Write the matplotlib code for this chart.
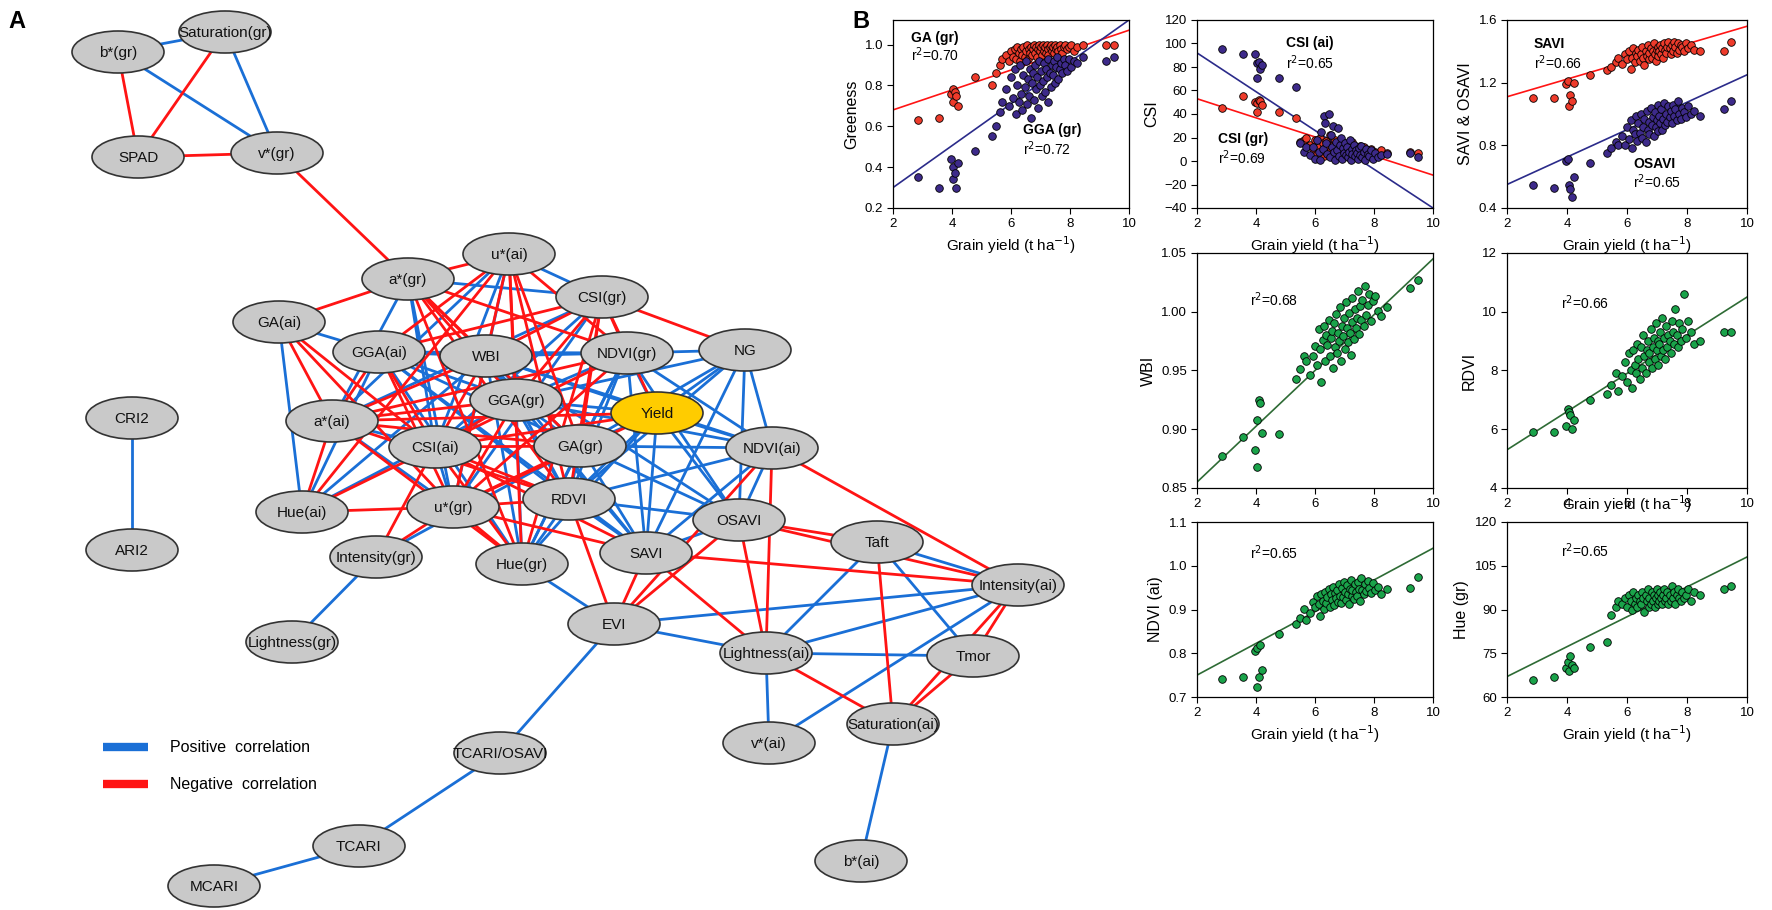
import matplotlib
matplotlib.use("Agg")
import matplotlib.pyplot as plt
from matplotlib.patches import Ellipse

plt.rcParams['font.family'] = ['Liberation Sans', 'DejaVu Sans']

W, H = 1772, 910

# ---------------- panel A : correlation network ----------------
node_pos = {  # layout in pixels (x, y from top)
    "b*(gr)": (118, 52), "Saturation(gr)": (225, 32), "SPAD": (138, 157), "v*(gr)": (277, 153),
    "a*(gr)": (408, 279), "u*(ai)": (509, 254), "CSI(gr)": (602, 297), "GA(ai)": (279, 322),
    "GGA(ai)": (379, 352), "WBI": (486, 356), "NDVI(gr)": (627, 353), "NG": (745, 350),
    "GGA(gr)": (516, 400), "Yield": (657, 413), "a*(ai)": (332, 421), "CSI(ai)": (435, 447),
    "GA(gr)": (580, 446), "NDVI(ai)": (772, 448), "Hue(ai)": (302, 512), "u*(gr)": (453, 507),
    "RDVI": (569, 499), "OSAVI": (739, 520), "Taft": (877, 542), "Intensity(gr)": (376, 557),
    "Hue(gr)": (522, 564), "SAVI": (646, 553), "Intensity(ai)": (1018, 585), "EVI": (614, 624),
    "Lightness(gr)": (292, 642), "Lightness(ai)": (766, 653), "Tmor": (973, 656),
    "v*(ai)": (769, 743), "Saturation(ai)": (893, 724), "b*(ai)": (861, 861),
    "TCARI/OSAVI": (500, 753), "TCARI": (359, 846), "MCARI": (214, 886),
    "CRI2": (132, 418), "ARI2": (132, 550),
}

positive_edges = [
    ("b*(gr)", "Saturation(gr)"), ("b*(gr)", "v*(gr)"), ("Saturation(gr)", "v*(gr)"),
    ("CRI2", "ARI2"), ("Intensity(gr)", "Lightness(gr)"), ("EVI", "TCARI/OSAVI"),
    ("TCARI/OSAVI", "TCARI"), ("TCARI", "MCARI"), ("Saturation(ai)", "b*(ai)"),
    ("Lightness(ai)", "v*(ai)"), ("Lightness(ai)", "Tmor"), ("Lightness(ai)", "Intensity(ai)"),
    ("Lightness(ai)", "EVI"), ("EVI", "Intensity(ai)"), ("v*(ai)", "Intensity(ai)"),
    ("Taft", "Tmor"), ("Taft", "Lightness(ai)"), ("Taft", "Intensity(ai)"), ("Hue(gr)", "EVI"),
    ("a*(gr)", "CSI(gr)"), ("a*(gr)", "a*(ai)"), ("a*(gr)", "CSI(ai)"), ("a*(gr)", "u*(gr)"),
    ("u*(ai)", "CSI(gr)"), ("u*(ai)", "CSI(ai)"), ("u*(ai)", "u*(gr)"), ("u*(ai)", "a*(ai)"),
    ("CSI(gr)", "CSI(ai)"), ("CSI(gr)", "u*(gr)"), ("CSI(gr)", "a*(ai)"),
    ("a*(ai)", "CSI(ai)"), ("a*(ai)", "u*(gr)"), ("CSI(ai)", "u*(gr)"),
    ("GA(ai)", "GGA(ai)"), ("GA(ai)", "Hue(ai)"), ("GGA(ai)", "WBI"), ("GGA(ai)", "GGA(gr)"),
    ("GGA(ai)", "GA(gr)"), ("GGA(ai)", "NDVI(gr)"), ("GGA(ai)", "RDVI"), ("GGA(ai)", "Hue(gr)"),
    ("GGA(ai)", "Hue(ai)"), ("GGA(ai)", "SAVI"),
    ("WBI", "NDVI(gr)"), ("WBI", "GGA(gr)"), ("WBI", "GA(gr)"), ("WBI", "RDVI"), ("WBI", "Hue(gr)"),
    ("WBI", "Yield"), ("WBI", "SAVI"), ("WBI", "OSAVI"), ("WBI", "NDVI(ai)"), ("WBI", "Hue(ai)"),
    ("NDVI(gr)", "NG"), ("NDVI(gr)", "GGA(gr)"), ("NDVI(gr)", "Yield"), ("NDVI(gr)", "GA(gr)"),
    ("NDVI(gr)", "NDVI(ai)"), ("NDVI(gr)", "RDVI"), ("NDVI(gr)", "SAVI"), ("NDVI(gr)", "OSAVI"),
    ("NDVI(gr)", "Hue(gr)"),
    ("NG", "Yield"), ("NG", "GA(gr)"), ("NG", "NDVI(ai)"), ("NG", "OSAVI"), ("NG", "SAVI"),
    ("NG", "RDVI"), ("NG", "GGA(gr)"),
    ("GGA(gr)", "GA(gr)"), ("GGA(gr)", "Yield"), ("GGA(gr)", "RDVI"), ("GGA(gr)", "Hue(gr)"),
    ("GGA(gr)", "SAVI"), ("GGA(gr)", "NDVI(ai)"), ("GGA(gr)", "Hue(ai)"),
    ("Yield", "GA(gr)"), ("Yield", "NDVI(ai)"), ("Yield", "RDVI"), ("Yield", "SAVI"),
    ("Yield", "OSAVI"), ("Yield", "Hue(gr)"),
    ("GA(gr)", "RDVI"), ("GA(gr)", "SAVI"), ("GA(gr)", "OSAVI"), ("GA(gr)", "NDVI(ai)"),
    ("GA(gr)", "Hue(gr)"), ("GA(gr)", "Intensity(gr)"),
    ("NDVI(ai)", "OSAVI"), ("NDVI(ai)", "SAVI"), ("NDVI(ai)", "RDVI"),
    ("RDVI", "SAVI"), ("RDVI", "OSAVI"), ("RDVI", "Hue(gr)"), ("OSAVI", "SAVI"),
]

negative_edges = [
    ("b*(gr)", "SPAD"), ("Saturation(gr)", "SPAD"), ("SPAD", "v*(gr)"), ("v*(gr)", "a*(gr)"),
    ("a*(gr)", "GA(ai)"), ("a*(gr)", "WBI"), ("a*(gr)", "GGA(gr)"), ("a*(gr)", "NDVI(gr)"),
    ("a*(gr)", "GA(gr)"), ("a*(gr)", "RDVI"), ("a*(gr)", "Hue(gr)"), ("a*(gr)", "u*(ai)"),
    ("u*(ai)", "WBI"), ("u*(ai)", "GGA(ai)"), ("u*(ai)", "GGA(gr)"), ("u*(ai)", "NDVI(gr)"),
    ("u*(ai)", "GA(gr)"), ("u*(ai)", "RDVI"), ("u*(ai)", "Hue(gr)"), ("u*(ai)", "Hue(ai)"),
    ("CSI(gr)", "WBI"), ("CSI(gr)", "GGA(ai)"), ("CSI(gr)", "GGA(gr)"), ("CSI(gr)", "NDVI(gr)"),
    ("CSI(gr)", "GA(gr)"), ("CSI(gr)", "NG"), ("CSI(gr)", "RDVI"), ("CSI(gr)", "Yield"),
    ("CSI(gr)", "Hue(gr)"),
    ("GA(ai)", "a*(ai)"), ("GA(ai)", "CSI(ai)"), ("GA(ai)", "u*(gr)"),
    ("GGA(ai)", "a*(ai)"), ("GGA(ai)", "CSI(ai)"), ("GGA(ai)", "u*(gr)"),
    ("WBI", "a*(ai)"), ("WBI", "CSI(ai)"), ("WBI", "u*(gr)"),
    ("NDVI(gr)", "a*(ai)"), ("NDVI(gr)", "CSI(ai)"), ("NDVI(gr)", "u*(gr)"),
    ("GGA(gr)", "a*(ai)"), ("GGA(gr)", "CSI(ai)"), ("GGA(gr)", "u*(gr)"),
    ("Yield", "a*(ai)"), ("Yield", "CSI(ai)"), ("Yield", "u*(gr)"),
    ("a*(ai)", "Hue(ai)"), ("a*(ai)", "GA(gr)"), ("a*(ai)", "RDVI"), ("a*(ai)", "Hue(gr)"),
    ("CSI(ai)", "GA(gr)"), ("CSI(ai)", "RDVI"), ("CSI(ai)", "Hue(gr)"), ("CSI(ai)", "Hue(ai)"),
    ("CSI(ai)", "Intensity(gr)"), ("CSI(ai)", "SAVI"),
    ("u*(gr)", "RDVI"), ("u*(gr)", "Hue(gr)"), ("u*(gr)", "Intensity(gr)"), ("u*(gr)", "SAVI"),
    ("u*(gr)", "GA(gr)"), ("u*(gr)", "Hue(ai)"),
    ("RDVI", "EVI"), ("SAVI", "EVI"), ("OSAVI", "EVI"), ("NDVI(ai)", "EVI"),
    ("NDVI(ai)", "Intensity(ai)"), ("NDVI(ai)", "Lightness(ai)"), ("OSAVI", "Lightness(ai)"),
    ("OSAVI", "Taft"), ("SAVI", "Lightness(ai)"), ("SAVI", "Intensity(ai)"),
    ("Taft", "Saturation(ai)"), ("OSAVI", "Intensity(ai)"), ("Lightness(ai)", "Saturation(ai)"),
    ("Tmor", "Saturation(ai)"), ("Intensity(ai)", "Saturation(ai)"), ("Intensity(ai)", "Tmor"),
]

# ---------------- panel B : grain yield scatter data ----------------
grain_yield = [2.85, 3.55, 3.95, 4.02, 4.05, 4.10, 4.15, 4.22, 4.78, 5.35,
               5.48, 5.62, 5.71,
               5.82, 5.93, 6.01, 6.06, 6.12, 6.18, 6.21, 6.27, 6.30, 6.34,
               6.38, 6.42, 6.47, 6.51, 6.55, 6.58, 6.62, 6.66, 6.69, 6.72,
               6.75, 6.79, 6.82, 6.86, 6.89, 6.93, 6.96, 6.99, 7.02, 7.05,
               7.08, 7.11, 7.14, 7.17, 7.21, 7.24, 7.27, 7.31, 7.35, 7.38,
               7.42, 7.46, 7.50, 7.53, 7.57, 7.61, 7.66, 7.70, 7.74, 7.79,
               7.84, 7.90, 7.96, 8.03, 8.12, 8.25, 8.45,
               9.22, 9.48]

ga_gr = [0.63, 0.64, 0.76, 0.78, 0.72, 0.77, 0.75, 0.70, 0.84, 0.80,
         0.86, 0.90, 0.93,
         0.95, 0.92, 0.97, 0.94, 0.98, 0.93, 0.99, 0.96, 0.92, 0.98,
         0.95, 0.99, 0.94, 0.97, 1.00, 0.93, 0.98, 0.96, 0.99, 0.95,
         0.98, 1.00, 0.96, 0.99, 0.94, 0.98, 1.00, 0.97, 0.99, 0.95,
         1.00, 0.97, 0.99, 0.96, 1.00, 0.98, 0.95, 0.99, 1.00, 0.97,
         0.99, 0.96, 1.00, 0.98, 0.99, 0.97, 1.00, 0.98, 0.96, 0.99,
         1.00, 0.98, 0.99, 1.00, 0.97, 0.99, 1.00,
         1.00, 1.00]
gga_gr = [0.35, 0.30, 0.44, 0.40, 0.34, 0.37, 0.30, 0.42, 0.48, 0.55,
          0.60, 0.67, 0.72,
          0.78, 0.70, 0.84, 0.74, 0.88, 0.66, 0.80, 0.72, 0.90, 0.76,
          0.68, 0.85, 0.79, 0.92, 0.71, 0.83, 0.75, 0.88, 0.64, 0.81,
          0.86, 0.73, 0.90, 0.78, 0.84, 0.69, 0.92, 0.80, 0.87, 0.75,
          0.82, 0.91, 0.77, 0.88, 0.84, 0.72, 0.93, 0.86, 0.79, 0.90,
          0.85, 0.92, 0.81, 0.89, 0.94, 0.83, 0.88, 0.91, 0.86, 0.93,
          0.90, 0.87, 0.93, 0.89, 0.92, 0.91, 0.94,
          0.92, 0.94]
csi_gr = [45, 55, 50, 49, 42, 52, 51, 48, 42, 37,
          16, 18, 20,
          14, 10, 18, 6, 12, 20, 8, 15, 4, 11,
          17, 7, 13, 22, 9, 5, 14, 11, 18, 6,
          12, 8, 16, 4, 10, 13, 7, 15, 9, 11,
          6, 14, 9, 12, 5, 16, 8, 10, 13, 7,
          11, 4, 9, 13, 6, 10, 12, 8, 5, 9,
          7, 10, 5, 8, 6, 9, 7,
          8, 7]
csi_ai = [95, 91, 91, 83, 71, 84, 78, 82, 71, 63,
          15, 8, 12,
          5, 12, 2, 18, 8, 1, 25, 10, 38, 32,
          15, 6, 40, 3, 22, 12, 30, 8, 1, 16,
          9, 28, 4, 14, 20, 2, 11, 7, 15, 5,
          12, 3, 8, 18, 1, 10, 6, 14, 4, 9,
          7, 2, 11, 5, 13, 3, 8, 1, 10, 6,
          4, 9, 2, 7, 3, 5, 6,
          7, 3]
savi = [1.10, 1.10, 1.19, 1.21, 1.05, 1.12, 1.08, 1.20, 1.25, 1.28,
        1.30, 1.33, 1.36,
        1.32, 1.38, 1.35, 1.40, 1.29, 1.36, 1.42, 1.33, 1.39, 1.37,
        1.41, 1.34, 1.38, 1.43, 1.36, 1.31, 1.40, 1.37, 1.44, 1.35,
        1.39, 1.42, 1.36, 1.40, 1.45, 1.38, 1.34, 1.41, 1.43, 1.37,
        1.40, 1.44, 1.38, 1.42, 1.36, 1.45, 1.41, 1.39, 1.43, 1.46,
        1.42, 1.38, 1.44, 1.40, 1.46, 1.43, 1.39, 1.45, 1.41, 1.44,
        1.43, 1.40, 1.45, 1.42, 1.44, 1.41, 1.40,
        1.40, 1.46]
osavi = [0.55, 0.53, 0.70, 0.71, 0.55, 0.52, 0.47, 0.60, 0.69, 0.75,
         0.78, 0.82, 0.80,
         0.86, 0.80, 0.92, 0.84, 0.96, 0.78, 0.90, 0.87, 0.99, 0.83,
         0.94, 0.88, 1.00, 0.85, 0.92, 0.97, 0.82, 1.02, 0.90, 0.95,
         0.87, 1.04, 0.93, 0.98, 0.86, 1.01, 0.92, 0.96, 1.06, 0.89,
         0.99, 0.94, 1.03, 0.90, 0.97, 1.07, 0.93, 1.00, 0.95, 1.05,
         0.98, 1.02, 0.94, 1.06, 0.99, 1.03, 0.96, 1.08, 1.00, 0.97,
         1.04, 1.01, 0.98, 1.05, 1.00, 1.02, 0.99,
         1.03, 1.08]
wbi = [0.877, 0.893, 0.882, 0.908, 0.868, 0.925, 0.922, 0.897, 0.896, 0.943,
       0.951, 0.962, 0.958,
       0.946, 0.962, 0.971, 0.955, 0.985, 0.968, 0.940, 0.976, 0.988, 0.958,
       0.980, 0.972, 0.993, 0.962, 0.978, 0.984, 0.952, 0.990, 0.970, 0.998,
       0.965, 0.982, 0.975, 1.004, 0.958, 0.988, 0.979, 0.995, 0.968, 1.008,
       0.986, 0.974, 0.999, 0.982, 0.963, 1.012, 0.991, 0.977, 1.002, 0.986,
       0.995, 1.018, 0.981, 1.005, 0.993, 1.010, 0.988, 1.022, 0.997, 1.006,
       1.015, 0.992, 1.009, 1.013, 1.001, 0.996, 1.004,
       1.020, 1.027]
rdvi = [5.9, 5.9, 6.1, 6.7, 6.6, 6.5, 6.0, 6.3, 7.0, 7.2,
        7.5, 7.9, 7.3,
        7.8, 8.3, 7.6, 8.6, 8.0, 7.4, 8.7, 8.2, 7.9, 8.9,
        8.4, 7.7, 8.8, 8.1, 9.2, 8.5, 7.9, 8.7, 9.0, 8.3,
        8.6, 9.4, 8.1, 8.8, 9.1, 8.4, 9.6, 8.7, 8.2, 9.0,
        8.9, 9.3, 8.5, 9.8, 8.7, 9.1, 8.4, 9.5, 8.8, 9.2,
        9.0, 8.6, 9.7, 9.3, 8.9, 10.1, 9.2, 8.8, 9.6, 9.0,
        9.4, 10.6, 9.1, 9.7, 9.3, 8.9, 9.0,
        9.3, 9.3]
ndvi_ai = [0.742, 0.745, 0.805, 0.812, 0.722, 0.745, 0.818, 0.762, 0.845, 0.868,
           0.880, 0.902, 0.875,
           0.892, 0.918, 0.905, 0.930, 0.912, 0.885, 0.935, 0.920, 0.902, 0.940,
           0.915, 0.928, 0.948, 0.905, 0.935, 0.922, 0.952, 0.910, 0.938, 0.926,
           0.945, 0.918, 0.958, 0.932, 0.915, 0.950, 0.928, 0.962, 0.940, 0.921,
           0.955, 0.935, 0.912, 0.948, 0.968, 0.930, 0.945, 0.925, 0.958, 0.940,
           0.932, 0.962, 0.948, 0.920, 0.972, 0.945, 0.935, 0.958, 0.942, 0.965,
           0.950, 0.938, 0.960, 0.945, 0.952, 0.935, 0.948,
           0.950, 0.975]
hue_gr = [66, 67, 70, 72, 69, 74, 71, 70, 77, 79,
          88, 91, 93,
          92, 94, 91, 95, 93, 90, 96, 92, 94, 91,
          95, 93, 92, 96, 94, 89, 95, 93, 97, 91,
          94, 92, 96, 93, 95, 91, 94, 97, 92, 95,
          93, 96, 94, 92, 95, 97, 93, 94, 96, 92,
          95, 93, 98, 94, 96, 92, 95, 97, 94, 93,
          96, 94, 95, 97, 93, 96, 95,
          97, 98]

# regression lines: value at yield = 2 and at yield = 10
fit_lines = {
    "ga_gr": (0.68, 1.07), "gga_gr": (0.30, 1.12),
    "csi_gr": (53, -12), "csi_ai": (92, -40),
    "savi": (1.11, 1.56), "osavi": (0.55, 1.25),
    "wbi": (0.855, 1.045), "rdvi": (5.3, 10.5),
    "ndvi_ai": (0.75, 1.04), "hue_gr": (67, 108),
}

POS_C = '#1a6fd6'
NEG_C = '#ff1414'
RED_PT = '#ee3b2b'
PUR_PT = '#3d2a8a'
GRN_PT = '#1aa34a'

fig = plt.figure(figsize=(W / 100, H / 100), dpi=100)

# network drawn in pixel coordinates on a full-figure axes
net = fig.add_axes([0, 0, 1, 1])
net.set_xlim(0, W)
net.set_ylim(H, 0)
net.axis('off')

for a, b in positive_edges:
    (x1, y1), (x2, y2) = node_pos[a], node_pos[b]
    net.plot([x1, x2], [y1, y2], color=POS_C, lw=2.0, zorder=1)
for a, b in negative_edges:
    (x1, y1), (x2, y2) = node_pos[a], node_pos[b]
    net.plot([x1, x2], [y1, y2], color=NEG_C, lw=2.0, zorder=1)

for name, (x, y) in node_pos.items():
    fc = '#ffcc00' if name == "Yield" else '#c9c9c9'
    net.add_patch(Ellipse((x, y), 92, 42, facecolor=fc, edgecolor='#333333', lw=1.2, zorder=3))
    net.text(x, y + 1, name, ha='center', va='center', fontsize=11, color='#111111', zorder=4)

net.plot([103, 148], [747, 747], color=POS_C, lw=6, solid_capstyle='butt')
net.plot([103, 148], [784, 784], color=NEG_C, lw=6, solid_capstyle='butt')
net.text(170, 747, "Positive  correlation", fontsize=11.5, va='center')
net.text(170, 784, "Negative  correlation", fontsize=11.5, va='center')
net.text(8, 22, "A", fontsize=17, fontweight='bold', va='center')
net.text(852, 22, "B", fontsize=17, fontweight='bold', va='center')


def px_axes(x0, y0, x1, y1):
    return fig.add_axes([x0 / W, 1 - y1 / H, (x1 - x0) / W, (y1 - y0) / H])


def style(ax, ylim, yticks, ylabel, yfmt=None, xlabel=True, xlabelpad=3):
    ax.set_xlim(2, 10)
    ax.set_xticks([2, 4, 6, 8, 10])
    ax.set_ylim(*ylim)
    ax.set_yticks(yticks)
    if yfmt:
        ax.set_yticklabels([yfmt.format(v) for v in yticks])
    ax.tick_params(direction='out', length=4, width=0.8, labelsize=9.5,
                   top=False, right=False, pad=3)
    for s in ax.spines.values():
        s.set_linewidth(0.9)
    ax.set_ylabel(ylabel, fontsize=11.5, labelpad=4)
    if xlabel:
        ax.set_xlabel('Grain yield (t ha$^{-1}$)', fontsize=11, labelpad=xlabelpad)
    ax.set_facecolor('none')


def scatter_fit(ax, y, key, pt_color, line_color):
    y0, y1 = fit_lines[key]
    ax.plot([2, 10], [y0, y1], color=line_color, lw=1.2, zorder=2, clip_on=True)
    ax.scatter(grain_yield, y, s=30, c=pt_color, edgecolors='black', linewidths=0.6, zorder=3)


col_x = [(893, 1129), (1197, 1433), (1507, 1747)]
row_y = [(20, 208), (253, 488), (522, 697)]

# row 1
ax = px_axes(col_x[0][0], row_y[0][0], col_x[0][1], row_y[0][1])
scatter_fit(ax, ga_gr, "ga_gr", RED_PT, NEG_C)
scatter_fit(ax, gga_gr, "gga_gr", PUR_PT, '#2b2b8a')
style(ax, (0.2, 1.12), [0.2, 0.4, 0.6, 0.8, 1.0], 'Greeness', '{:.1f}')
ax.text(2.6, 1.03, 'GA (gr)', fontsize=10, fontweight='bold', va='center')
ax.text(2.6, 0.95, 'r$^2$=0.70', fontsize=10, va='center')
ax.text(6.4, 0.58, 'GGA (gr)', fontsize=10, fontweight='bold', va='center')
ax.text(6.4, 0.49, 'r$^2$=0.72', fontsize=10, va='center')

ax = px_axes(col_x[1][0], row_y[0][0], col_x[1][1], row_y[0][1])
scatter_fit(ax, csi_gr, "csi_gr", RED_PT, NEG_C)
scatter_fit(ax, csi_ai, "csi_ai", PUR_PT, '#2b2b8a')
style(ax, (-40, 120), list(range(-40, 121, 20)), 'CSI')
ax.text(5.0, 100, 'CSI (ai)', fontsize=10, fontweight='bold', va='center')
ax.text(5.0, 84, 'r$^2$=0.65', fontsize=10, va='center')
ax.text(2.7, 19, 'CSI (gr)', fontsize=10, fontweight='bold', va='center')
ax.text(2.7, 3, 'r$^2$=0.69', fontsize=10, va='center')

ax = px_axes(col_x[2][0], row_y[0][0], col_x[2][1], row_y[0][1])
scatter_fit(ax, savi, "savi", RED_PT, NEG_C)
scatter_fit(ax, osavi, "osavi", PUR_PT, '#2b2b8a')
style(ax, (0.4, 1.6), [0.4, 0.8, 1.2, 1.6], 'SAVI & OSAVI', '{:.1f}')
ax.text(2.9, 1.45, 'SAVI', fontsize=10, fontweight='bold', va='center')
ax.text(2.9, 1.33, 'r$^2$=0.66', fontsize=10, va='center')
ax.text(6.2, 0.68, 'OSAVI', fontsize=10, fontweight='bold', va='center')
ax.text(6.2, 0.57, 'r$^2$=0.65', fontsize=10, va='center')

# row 2
ax = px_axes(col_x[1][0], row_y[1][0], col_x[1][1], row_y[1][1])
scatter_fit(ax, wbi, "wbi", GRN_PT, '#2e6b35')
style(ax, (0.85, 1.05), [0.85, 0.90, 0.95, 1.00, 1.05], 'WBI', '{:.2f}', xlabel=False)
ax.text(3.8, 1.01, 'r$^2$=0.68', fontsize=10, va='center')

ax = px_axes(col_x[2][0], row_y[1][0], col_x[2][1], row_y[1][1])
scatter_fit(ax, rdvi, "rdvi", GRN_PT, '#2e6b35')
style(ax, (4, 12), [4, 6, 8, 10, 12], 'RDVI', xlabelpad=-12)
ax.text(3.8, 10.3, 'r$^2$=0.66', fontsize=10, va='center')

# row 3
ax = px_axes(col_x[1][0], row_y[2][0], col_x[1][1], row_y[2][1])
scatter_fit(ax, ndvi_ai, "ndvi_ai", GRN_PT, '#2e6b35')
style(ax, (0.7, 1.1), [0.7, 0.8, 0.9, 1.0, 1.1], 'NDVI (ai)', '{:.1f}')
ax.text(3.8, 1.03, 'r$^2$=0.65', fontsize=10, va='center')

ax = px_axes(col_x[2][0], row_y[2][0], col_x[2][1], row_y[2][1])
scatter_fit(ax, hue_gr, "hue_gr", GRN_PT, '#2e6b35')
style(ax, (60, 120), [60, 75, 90, 105, 120], 'Hue (gr)')
ax.text(3.8, 110, 'r$^2$=0.65', fontsize=10, va='center')

fig.savefig('out.png', dpi=100)
